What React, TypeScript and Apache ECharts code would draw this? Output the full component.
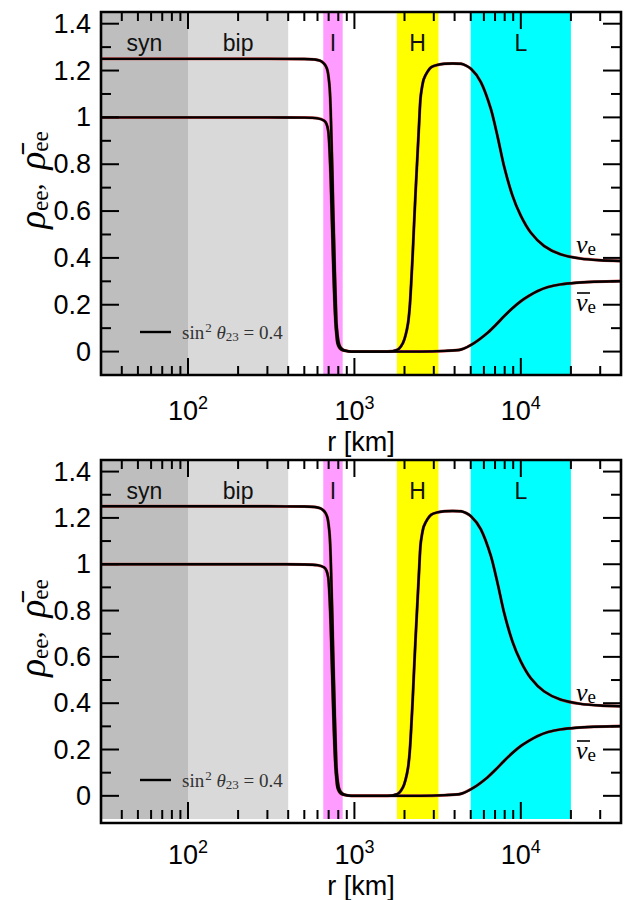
import React, { useEffect, useRef } from 'react';
import * as echarts from 'echarts';

// nu_e survival probability (rho_ee) vs radius r [km]
const nuR = [30, 300, 500, 578, 620, 650, 672, 689, 700, 711, 720, 728, 737, 745, 754, 763, 772, 780, 792, 805, 825, 855, 900, 960, 1200, 1500, 1650, 1742, 1850, 1958, 2030, 2099, 2150, 2193, 2245, 2295, 2350, 2404, 2450, 2494, 2550, 2613, 2750, 2891, 3150, 3475, 3900, 4375, 5025, 5760, 6607, 7240, 7940, 8910, 10000, 11480, 13800, 17380, 22870, 30000, 40000];
const nuV = [1.25, 1.25, 1.249, 1.247, 1.242, 1.233, 1.22, 1.2, 1.17, 1.12, 1.03, 0.908, 0.77, 0.623, 0.48, 0.338, 0.22, 0.124, 0.07, 0.037, 0.018, 0.008, 0.003, 0.0, 0.0, 0.0, 0.001, 0.004, 0.012, 0.037, 0.07, 0.12, 0.19, 0.29, 0.43, 0.58, 0.73, 0.865, 0.98, 1.08, 1.13, 1.164, 1.195, 1.214, 1.224, 1.229, 1.23, 1.229, 1.207, 1.15, 1.036, 0.92, 0.79, 0.666, 0.58, 0.508, 0.451, 0.415, 0.397, 0.39, 0.387];

// anti-nu_e survival probability (rho-bar_ee)
const antiR = [30, 300, 500, 600, 659, 680, 696, 704, 711, 720, 728, 738, 748, 758, 769, 780, 790, 810, 836, 880, 950, 1500, 2500, 3500, 4375, 5250, 6310, 7100, 7940, 8900, 10000, 11200, 12590, 14500, 17380, 21500, 27480, 40000];
const antiV = [1.0, 1.0, 0.999, 0.996, 0.986, 0.972, 0.943, 0.9, 0.838, 0.74, 0.623, 0.48, 0.338, 0.22, 0.124, 0.07, 0.037, 0.018, 0.008, 0.003, 0.0, 0.0, 0.0, 0.003, 0.009, 0.037, 0.08, 0.115, 0.151, 0.185, 0.215, 0.238, 0.258, 0.275, 0.287, 0.294, 0.298, 0.301];

// shaded regions
const bandNames = ['syn', 'bip', 'I', 'H', 'L'];
const bandStart = [30, 100, 650, 1800, 5000];
const bandEnd = [100, 400, 850, 3200, 20000];
const bandColors = ['#bebebe', '#d9d9d9', '#ff9cff', '#ffff00', '#00ffff'];

// axes
const xMin = 30;
const xMax = 40000;
const yMin = -0.1;
const yMax = 1.45;
const xMajorTicks = [100, 1000, 10000];
const xMinorTicks = [40, 50, 60, 70, 80, 90, 200, 300, 400, 500, 600, 700, 800, 900, 2000, 3000, 4000, 5000, 6000, 7000, 8000, 9000, 20000, 30000];
const yMajorTicks = [0, 0.2, 0.4, 0.6, 0.8, 1.0, 1.2, 1.4];
const yMinorTicks = [0.1, 0.3, 0.5, 0.7, 0.9, 1.1, 1.3];

const panelTops = [12, 460];
const GL = 101;
const GW = 520;
const GH = 363;

function zip(a: number[], b: number[]) {
  return a.map((v, i) => [v, b[i]]);
}

const SERIF = 'Liberation Serif';
const SANS = 'Liberation Sans';

export default function App() {
  const ref = useRef<HTMLDivElement>(null);
  useEffect(() => {
    if (!ref.current) return;
    const chart = echarts.init(ref.current, undefined, { renderer: 'svg' });

    const grids: any[] = [];
    const xAxes: any[] = [];
    const yAxes: any[] = [];
    const series: any[] = [];
    const graphics: any[] = [];

    const tickData: number[][] = [];
    xMajorTicks.forEach((v) => tickData.push([v, 0.5, 17, 0]));
    xMinorTicks.forEach((v) => tickData.push([v, 0.5, 9, 0]));
    yMajorTicks.forEach((v) => tickData.push([100, v, 18, 1]));
    yMinorTicks.forEach((v) => tickData.push([100, v, 10, 1]));

    const lineSeries = (data: number[][], color: string, width: number, z: number, extra: any = {}) => ({
      type: 'line',
      data,
      symbol: 'none',
      smooth: 0.25,
      lineStyle: { color, width },
      z,
      silent: true,
      ...extra,
    });

    panelTops.forEach((top, i) => {
      grids.push({ left: GL, top, width: GW, height: GH, show: false });
      xAxes.push({
        type: 'log',
        gridIndex: i,
        min: xMin,
        max: xMax,
        axisLine: { show: false },
        axisTick: { show: false },
        splitLine: { show: false },
        minorTick: { show: false },
        minorSplitLine: { show: false },
        axisLabel: {
          showMinLabel: false,
          showMaxLabel: false,
          margin: 19,
          color: '#000',
          fontFamily: SANS,
          fontSize: 27,
          formatter: (v: number) => {
            const e = Math.log10(v);
            if (Math.abs(e - Math.round(e)) > 1e-6) return '';
            return '10{sup|' + Math.round(e) + '}';
          },
          rich: {
            sup: { fontSize: 18, fontFamily: SANS, color: '#000', verticalAlign: 'top', padding: [0, 0, 16, 0] },
          },
        },
        name: 'r [km]',
        nameLocation: 'middle',
        nameGap: 53,
        nameTextStyle: { fontFamily: SANS, fontSize: 27, color: '#000' },
      });
      yAxes.push({
        type: 'value',
        gridIndex: i,
        min: yMin,
        max: yMax,
        interval: 0.1,
        axisLine: { show: false },
        axisTick: { show: false },
        splitLine: { show: false },
        axisLabel: {
          showMaxLabel: false,
          margin: 10,
          color: '#000',
          fontFamily: SANS,
          fontSize: 27,
          formatter: (v: number) => {
            const t = Math.round(v * 10);
            if (t < 0 || t > 14 || t % 2 !== 0) return '';
            if (t === 0) return '0';
            if (t === 10) return '1';
            return (t / 10).toFixed(1);
          },
        },
      });

      series.push(
        lineSeries(zip(nuR, nuV), '#cc4444', 3.0, 2, {
          xAxisIndex: i,
          yAxisIndex: i,
          markArea: {
            silent: true,
            data: bandNames.map((n, k) => [
              { name: n, xAxis: bandStart[k], itemStyle: { color: bandColors[k], opacity: 1 } },
              { xAxis: bandEnd[k] },
            ]),
            label: {
              show: true,
              position: 'insideTop',
              distance: 19,
              color: '#111',
              fontFamily: SANS,
              fontSize: 23,
            },
          },
        })
      );
      series.push(lineSeries(zip(antiR, antiV), '#cc4444', 3.0, 2, { xAxisIndex: i, yAxisIndex: i }));
      series.push(lineSeries(zip(nuR, nuV), '#000', 2.4, 3, { name: 'nu_e', xAxisIndex: i, yAxisIndex: i }));
      series.push(lineSeries(zip(antiR, antiV), '#000', 2.4, 3, { name: 'anti_nu_e', xAxisIndex: i, yAxisIndex: i }));
      series.push({
        type: 'custom',
        xAxisIndex: i,
        yAxisIndex: i,
        data: tickData,
        silent: true,
        z: 10,
        clip: false,
        renderItem: (params: any, api: any) => {
          const cs = params.coordSys;
          const len = api.value(2);
          const kind = api.value(3);
          const st = { stroke: '#000', lineWidth: 2 };
          if (kind === 0) {
            const px = api.coord([api.value(0), 0.5])[0];
            return {
              type: 'group',
              children: [
                { type: 'line', shape: { x1: px, y1: cs.y + cs.height, x2: px, y2: cs.y + cs.height - len }, style: st },
                { type: 'line', shape: { x1: px, y1: cs.y, x2: px, y2: cs.y + len }, style: st },
              ],
            };
          }
          const py = api.coord([100, api.value(1)])[1];
          return {
            type: 'group',
            children: [
              { type: 'line', shape: { x1: cs.x, y1: py, x2: cs.x + len, y2: py }, style: st },
              { type: 'line', shape: { x1: cs.x + cs.width, y1: py, x2: cs.x + cs.width - len, y2: py }, style: st },
            ],
          };
        },
      });

      // frame
      graphics.push({
        type: 'rect',
        shape: { x: GL, y: top, width: GW, height: GH },
        style: { fill: 'none', stroke: '#000', lineWidth: 2.6 },
        z: 100,
        silent: true,
      });
      // y axis title
      graphics.push({
        type: 'text',
        x: 32,
        y: top + 168,
        rotation: Math.PI / 2,
        z: 100,
        style: {
          text: '{r|ρ}{s|ee}{c|,  }{r|ρ\u0304}{s|ee}',
          align: 'center',
          verticalAlign: 'middle',
          fill: '#000',
          rich: {
            r: { fontFamily: SERIF, fontStyle: 'italic', fontSize: 37, fill: '#000' },
            s: { fontFamily: SERIF, fontSize: 23, fill: '#000', padding: [16, 0, 0, 0] },
            c: { fontFamily: SERIF, fontStyle: 'italic', fontSize: 28, fill: '#000' },
          },
        },
      });
      // legend
      graphics.push({
        type: 'line',
        shape: { x1: 140, y1: top + 320, x2: 171, y2: top + 320 },
        style: { stroke: '#000', lineWidth: 2.4 },
        z: 100,
      });
      graphics.push({
        type: 'text',
        x: 182,
        y: top + 320,
        z: 100,
        style: {
          text: '{n|sin}{p|2}{t| θ}{b|23}{n| = 0.4}',
          align: 'left',
          verticalAlign: 'middle',
          rich: {
            n: { fontFamily: SERIF, fontSize: 19, fill: '#333' },
            t: { fontFamily: SERIF, fontStyle: 'italic', fontSize: 19, fill: '#333' },
            p: { fontFamily: SERIF, fontSize: 13, fill: '#333', padding: [0, 0, 10, 1] },
            b: { fontFamily: SERIF, fontSize: 13, fill: '#333', padding: [9, 0, 0, 0] },
          },
        },
      });
      // curve labels
      const nuRich = {
        r: { fontFamily: SERIF, fontStyle: 'italic', fontSize: 26, fill: '#000' },
        s: { fontFamily: SERIF, fontSize: 19, fill: '#000', padding: [8, 0, 0, 0] },
      };
      graphics.push({
        type: 'text',
        x: 576,
        y: top + 232,
        z: 100,
        style: { text: '{r|ν}{s|e}', align: 'left', verticalAlign: 'middle', rich: nuRich },
      });
      graphics.push({
        type: 'text',
        x: 576,
        y: top + 290,
        z: 100,
        style: { text: '{r|ν}{s|e}', align: 'left', verticalAlign: 'middle', rich: nuRich },
      });
      graphics.push({
        type: 'line',
        shape: { x1: 577, y1: top + 281, x2: 590, y2: top + 281 },
        style: { stroke: '#000', lineWidth: 1.6 },
        z: 100,
      });
    });

    chart.setOption({
      animation: false,
      backgroundColor: '#fff',
      grid: grids,
      xAxis: xAxes,
      yAxis: yAxes,
      series,
      graphic: graphics,
    });
    return () => chart.dispose();
  }, []);
  return <div ref={ref} style={{ position: 'absolute', left: 0, top: 0, width: 625, height: 900 }} />;
}
